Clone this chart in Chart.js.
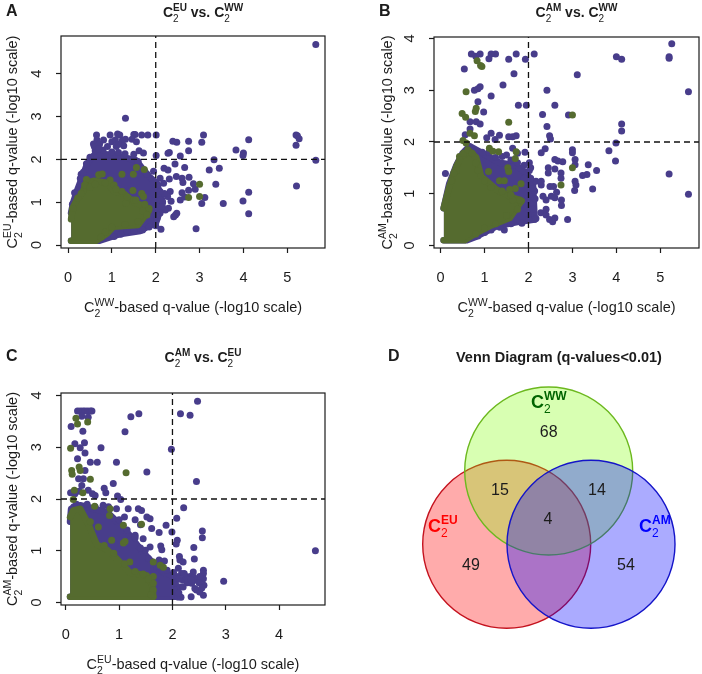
<!DOCTYPE html>
<html>
<head>
<meta charset="utf-8">
<script src="https://cdn.jsdelivr.net/npm/chart.js@4"></script>
<style>
  html, body { margin: 0; padding: 0; background: #fff; }
  #page { position: relative; width: 702px; height: 674px; overflow: hidden; }
  canvas { position: absolute; }
</style>
</head>
<body>
<div id="page">
  <canvas id="panelA" width="351" height="337" style="left:0;top:0"></canvas>
  <canvas id="panelB" width="351" height="337" style="left:351px;top:0"></canvas>
  <canvas id="panelC" width="351" height="337" style="left:0;top:337px"></canvas>
  <canvas id="panelD" width="351" height="337" style="left:351px;top:337px"></canvas>
</div>
<script>
var xTicks = [0, 1, 2, 3, 4, 5];
var qCutoff = 2;

// panel A: [x, y]
var aPurple = [[5.65,4.68],[1.31,2.96],[5.65,1.98],[5.21,1.38],[5.2,2.57],[5.23,2.55],[5.27,2.48],[5.2,2.33],[4.12,2.46],[3.83,2.22],[4,2.15],[3.99,2.09],[3.33,1.99],[3.45,1.79],[3.22,1.75],[3.09,2.57],[3.05,2.4],[2.75,2.42],[2.75,2.2],[2.39,2.42],[2.48,2.4],[2.31,2.16],[2.28,2.14],[2.56,2.08],[2.44,1.89],[2.66,1.81],[2.19,1.79],[2.28,1.75],[2.01,2.57],[2.01,2.09],[4.12,1.23],[3.99,1.03],[4.12,.73],[3.54,.97],[3.37,1.42],[3.12,1.11],[3.05,.97],[2.92,.38],[2.12,.37],[2.76,1.58],[2.47,1.6],[2.6,1.56],[2.31,1.54],[2.62,1.46],[2.86,1.43],[2.9,1.3],[2.75,1.28],[2.6,1.22],[2.33,1.25],[2.27,1.13],[2.56,1.05],[2.66,1.12],[2.48,.74],[2.41,.66],[2.29,.86],[2.22,.82],[2.03,.62],[2.1,1.05],[2.18,1.44],[2.1,1.56],[2.35,1.02],[2.45,.7],[2.2,1.2],[2.05,1.3],[.65,2.57],[.96,2.57],[1.13,2.59],[1.18,2.57],[1.5,2.58],[1.53,2.58],[1.68,2.57],[1.82,2.57],[.66,2.45],[.58,2.36],[1,2.41],[1.08,2.45],[1.31,2.47],[1.24,2.44],[1.27,2.32],[1.46,2.47],[1.56,2.41],[.81,2.45],[.72,2.36],[1,2.17],[1.15,2.16],[1.3,2.13],[1.5,2.12],[1.62,2.2],[1.72,2.15],[.62,2.2],[.8,2.22],[1.75,1.72],[1.6,1.95],[1.8,1.65],[1.95,1.72],[.3,1.65],[.15,1.22],[.6,2.3],[.7,2.25],[.9,2.3],[1.1,2.3],[1.15,2.35],[2.05,1.4],[2.1,1.25],[2.15,.9],[2.1,.75],[2.05,.7],[2,.45],[.1,.95],[.2,1.2],[.28,1.55],[.35,1.7],[.42,1.9],[.5,2.05],[1.05,.2],[1.2,.25],[1.35,.33],[1.5,.32],[1.7,.35],[1.85,.42]];
var aGreen = [[1.56,1.81],[1.74,1.76],[1.23,1.65],[1.49,1.65],[3,1.42],[2.75,1.11],[3,1.13],[1.48,1.27],[1.23,1.25],[.42,1.53],[.7,1.64],[.96,1.52],[1.68,1.2],[1.72,1.13],[1.5,1.05],[.78,1.66],[.55,1.45],[1.05,1.4],[1.32,.98],[1.85,.85],[1.7,.8],[.12,.85],[.22,1.1],[.3,1.2],[.38,1.4],[.5,1.35],[.62,1.42],[.85,1.45],[1.1,1.3],[1.35,1.12],[1.55,1.05],[1.75,.95],[1.8,.7],[1.6,.55],[1.3,.48],[1,.42],[.85,.3],[.75,.18]];
var aPurpleTop = [[.07,.75],[.12,1],[.2,1.25],[.33,1.6],[.42,1.85],[.5,2],[.62,2.12],[.85,2.12],[1.05,2.1],[1.25,2.05],[1.55,1.98],[1.7,1.78],[1.85,1.6],[2.02,1.45],[2.16,1]];
var aPurpleLow = [[.07,.1],[.72,.1],[.95,.18],[1.2,.26],[1.65,.33],[1.85,.45],[2,.5],[2.16,1]];
var aGreenTop = [[.07,.6],[.1,.85],[.2,1.05],[.32,1.2],[.42,1.45],[.6,1.5],[.9,1.45],[1.05,1.25],[1.27,1.2],[1.5,1],[1.7,.92],[1.84,.8]];
var aGreenLow = [[.07,.1],[.64,.1],[.89,.27],[1.04,.43],[1.6,.47],[1.84,.8]];

// panel B
var bPurple = [[5.26,3.9],[5.2,3.65],[5.2,3.62],[5.64,2.97],[5.64,.99],[5.2,1.38],[4,3.65],[4.12,3.6],[3.11,3.3],[4.12,2.35],[4.12,2.21],[3.99,1.98],[3.83,1.83],[3.98,1.63],[2.13,3.7],[1.93,3.6],[1.72,3.7],[1.55,3.6],[1.67,3.32],[1.25,3.7],[1.15,3.7],[1.1,3.61],[.9,3.7],[.7,3.7],[.8,3.66],[.54,3.41],[1.42,3.1],[2.42,3],[1.15,2.89],[.9,3.07],[.85,3.03],[.77,3],[.85,2.78],[1.77,2.71],[1.95,2.71],[2.6,2.71],[2.32,2.53],[2.91,2.52],[.98,2.58],[2.42,2.3],[2.48,2.12],[2.5,2.06],[.67,2.39],[.81,2.39],[.9,2.35],[.67,2.25],[.56,2.14],[1.15,2.17],[1.05,2.08],[1.24,2.05],[1.34,2.13],[1.55,2.1],[1.72,2.12],[1.64,2.1],[.11,1.39],[3.46,1.09],[3.55,1.45],[3.36,1.56],[3.33,1.37],[3.23,1.35],[3.05,1.06],[3.08,1.17],[3.06,1.24],[3.06,1.66],[3,1.85],[3,1.79],[3.06,1.56],[2.89,.5],[2.78,1.62],[2.67,1.63],[2.6,1.66],[2.6,1.48],[2.74,1.4],[2.74,1.3],[2.29,1.79],[2.38,1.87],[2.45,1.5],[2.45,1.4],[2.49,1.14],[2.57,1.14],[2.64,1.03],[2.52,.95],[2.6,.92],[2.75,.88],[2.75,.77],[2.4,.88],[2.33,.95],[2.29,1.17],[2.17,1.24],[2.29,1.24],[2.28,.63],[2.4,.59],[2.48,.5],[2.55,.46],[2.6,.53],[2.17,.52],[2.4,.7],[2.14,1.05],[1.45,.3],[1.64,1.88],[1.75,1.78],[1.92,1.8],[2.02,1.6],[2.02,1.45],[1.9,1.3],[.95,1.8],[1.4,1.72],[2.05,1.5],[2.05,1.3],[2.1,1.1],[2.15,.9],[2.1,.7],[2,.5],[1.9,1.55],[1.75,1.6],[1.6,1.65],[1.5,1.75],[1.25,1.7],[1.1,1.8],[1.85,.43],[1.6,.42],[1.35,.35],[1.15,.3],[1,.25],[.85,.18]];
var bGreen = [[.83,3.57],[.91,3.48],[.94,3.46],[.58,2.97],[.81,2.65],[.79,2.59],[.49,2.55],[.57,2.48],[1.55,2.38],[3,2.52],[.67,2.17],[.77,2.12],[.51,2.03],[.58,1.98],[1.11,1.88],[1.19,1.82],[1.32,1.81],[1.72,1.81],[1.7,1.68],[3,1.5],[2.74,1.17],[1.53,1.5],[1.55,1.43],[1.09,1.43],[.36,1.45],[.43,1.72],[1.34,1.25],[1.45,1.25],[1.83,1.19],[1.7,1.1],[1.57,1.08],[1.8,.88],[1.64,.88],[.25,1.25],[.3,1.4],[.52,1.78],[.62,1.85],[.72,1.78],[.8,1.6],[.85,1.45],[1,1.25],[1.15,1.12],[1.4,1.05],[1.6,.98],[1.75,.7],[1.5,.58],[1.25,.42],[1,.33],[.8,.22]];
var bPurpleTop = [[.07,.72],[.2,1.2],[.36,1.55],[.5,1.78],[.66,1.92],[.96,1.78],[1.34,1.6],[1.72,1.55],[1.95,1.4],[2.1,1.2],[2.14,.5]];
var bPurpleLow = [[.07,.1],[.6,.1],[.81,.17],[1.27,.37],[1.8,.46],[2.14,.5]];
var bGreenTop = [[.07,.72],[.2,1.14],[.36,1.53],[.47,1.72],[.66,1.82],[.81,1.7],[.92,1.34],[1.27,1.08],[1.57,.95],[1.84,.86]];
var bGreenLow = [[.07,.1],[.55,.1],[.81,.24],[1.11,.37],[1.57,.53],[1.84,.86]];

// panel C
var cPurple = [[4.68,1],[2.96,.41],[2.47,3.89],[2.15,3.65],[2.33,3.62],[1.98,2.96],[2.45,2.34],[2.21,1.83],[1.52,2.52],[1.37,3.65],[1.22,3.59],[1.11,3.3],[.66,2.99],[.59,2.71],[.46,2.71],[.95,2.71],[.89,2.3],[.35,3.09],[.17,3.07],[.27,2.99],[.36,2.89],[.22,2.78],[.32,3.31],[.1,3.4],[.22,3.7],[.27,3.7],[.32,3.7],[.36,3.7],[.41,3.7],[.46,3.7],[.49,3.7],[.3,3.6],[.42,3.58],[.72,2.21],[.75,2.12],[.97,2.06],[1.03,1.99],[.36,2.55],[.24,2.39],[.33,2.39],[.3,2.26],[.17,2.1],[.42,2.17],[.55,2.07],[.09,2.12],[.5,2.1],[.25,2.15],[2.56,1.38],[2.56,1.25],[1.99,1.36],[2.08,1.63],[1.88,1.49],[1.75,1.35],[2.09,1.2],[2.07,1.13],[2.4,1.06],[2.41,.84],[2.13,.89],[2.14,.82],[2.2,.78],[1.78,1.09],[1.8,1.02],[1.58,1.07],[1.49,1.01],[1.45,1.23],[1.61,1.43],[1.58,1.62],[1.52,1.65],[1.36,1.81],[1.42,1.78],[1.17,1.81],[.95,1.81],[1.4,1.5],[1.3,1.6],[1.1,1.65],[2.35,.11],[2.16,.1],[2.58,.14],[2.59,.33],[2.58,.62],[2.58,.56],[2.58,.46],[2.45,.24],[2.51,.2],[2.42,.27],[2.39,.59],[2.33,.5],[2.45,.43],[2.51,.5],[2.36,.37],[2.11,.66],[2.17,.56],[2.08,.5],[2.2,.43],[2.05,.37],[2.08,.24],[1.75,.82],[1.85,.8],[1.3,1.3],[2.12,.45],[2.15,.3],[2.12,.18],[2.25,.5],[2.28,.38],[2.2,.3],[2.28,.46],[2.4,.48],[2.5,.38],[2.55,.28],[2.35,.44],[2.22,.56],[2.02,.58],[.8,1.85],[.7,1.88],[.55,1.85],[.4,1.9],[.15,1.85],[.2,1.9],[1,1.6],[1.15,1.4],[1.3,1.25],[1.4,1.05],[1.55,.85],[1.7,.7],[1.9,.62]];
var cGreen = [[.19,3.56],[.22,3.45],[.41,3.49],[.09,2.98],[.25,2.62],[.27,2.55],[.11,2.55],[.12,2.48],[1.13,2.51],[.46,2.38],[.32,2.12],[.16,2.17],[.14,1.99],[.54,1.86],[.83,1.81],[.82,1.68],[1.08,1.49],[1.42,1.51],[.61,1.46],[.46,1.56],[.86,1.2],[1.08,1.15],[1.11,1.18],[1.2,.78],[1.64,.78],[1.77,.72],[1.83,.68],[1.64,.5],[1.64,.37],[1.64,.24],[.72,1.1],[.9,.95],[1.1,.75],[1.3,.6],[1.45,.55],[1.55,.45],[1.6,.15]];
var cPurpleTop = [[.08,1.56],[.1,1.81],[.27,1.88],[.77,1.75],[.92,1.6],[1.2,1.3],[1.42,1],[1.58,.82],[1.83,.58],[1.98,.52],[2.08,.3],[2.1,.1]];
var cPurpleLow = [[.08,.11],[2.1,.11]];
var cGreenTop = [[.08,1.65],[.14,1.78],[.27,1.81],[.42,1.52],[.58,1.12],[.77,1.02],[.95,.85],[1.2,.58],[1.52,.52],[1.62,.34],[1.64,.11]];
var cGreenLow = [[.08,.11],[1.64,.11]];

// panel D
var vennX = [548.7, 506.7, 591];
var vennY = [471, 544.3, 544.3];
var vennSize = [84, 84, 84];
var vennCounts = ["68", "15", "14", "4", "49", "54"];
var vennCountX = [548.7, 500, 597, 548, 471, 626];
var vennCountY = [433, 491, 491, 520, 566, 566];

var PURPLE = "#483d8b";
var OLIVE = "#556b2f";
var INK = "#1c1c1c";
var SANS = '"Liberation Sans", Arial, sans-serif';

function pts(list) {
  return list.map(function (p) { return { x: p[0], y: p[1] }; });
}

// C with a stacked subscript 2 and superscript, then the trailing text
function richWidth(ctx, sup, rest, s) {
  ctx.font = s.weight + " " + s.size + "px " + SANS;
  var w = ctx.measureText("C").width;
  ctx.font = s.weight + " " + s.small + "px " + SANS;
  w += ctx.measureText(sup).width;
  if (rest) {
    ctx.font = s.weight + " " + s.size + "px " + SANS;
    w += ctx.measureText(rest).width;
  }
  return w;
}

function drawRich(ctx, x, y, sup, rest, s) {
  ctx.textAlign = "left";
  ctx.textBaseline = "alphabetic";
  ctx.fillStyle = s.color || INK;
  ctx.font = s.weight + " " + s.size + "px " + SANS;
  ctx.fillText("C", x, y);
  var cx = x + ctx.measureText("C").width;
  ctx.font = "normal " + s.small + "px " + SANS;
  ctx.fillText("2", cx, y + s.small * 0.45);
  ctx.font = s.weight + " " + s.small + "px " + SANS;
  ctx.fillText(sup, cx, y - s.size * 0.42);
  cx += ctx.measureText(sup).width;
  if (rest) {
    ctx.font = s.weight + " " + s.size + "px " + SANS;
    ctx.fillText(rest, cx, y);
  }
}

var LABEL = { weight: "normal", size: 14.5, small: 10.5 };
var TITLE = { weight: "bold", size: 14, small: 10 };
var REST = "-based q-value (-log10 scale)";

var panelText = {
  id: "panelText",
  afterDraw: function (chart, args, o) {
    var ctx = chart.ctx, a = chart.chartArea;
    ctx.save();
    ctx.strokeStyle = INK;
    ctx.lineWidth = 1.2;
    ctx.strokeRect(a.left, a.top, a.right - a.left, a.bottom - a.top);

    ctx.font = "bold 16px " + SANS;
    ctx.fillStyle = INK;
    ctx.textAlign = "left";
    ctx.textBaseline = "alphabetic";
    ctx.fillText(o.letter, o.letterX, o.letterY);

    var tw = richWidth(ctx, o.titleA, "", TITLE);
    ctx.font = "bold 14px " + SANS;
    var vs = ctx.measureText(" vs. ").width;
    var total = tw + vs + richWidth(ctx, o.titleB, "", TITLE);
    var tx = (a.left + a.right) / 2 + 10 - total / 2;
    drawRich(ctx, tx, o.titleY, o.titleA, "", TITLE);
    ctx.font = "bold 14px " + SANS;
    ctx.fillStyle = INK;
    ctx.fillText(" vs. ", tx + tw, o.titleY);
    drawRich(ctx, tx + tw + vs, o.titleY, o.titleB, "", TITLE);

    var xw = richWidth(ctx, o.xSup, REST, LABEL);
    drawRich(ctx, (a.left + a.right) / 2 - xw / 2, a.bottom + 64, o.xSup, REST, LABEL);

    var yw = richWidth(ctx, o.ySup, REST, LABEL);
    ctx.translate(o.yLabelX, (a.top + a.bottom) / 2 + yw / 2);
    ctx.rotate(-Math.PI / 2);
    drawRich(ctx, 0, 0, o.ySup, REST, LABEL);
    ctx.restore();
  }
};

function scatterPanel(id, d) {
  var W = 351, H = 337, yW = 30, xH = 40;
  var cutoffLine = { showLine: true, pointRadius: 0, borderColor: "#111", borderWidth: 1.3, borderDash: [6, 4] };
  var mass = function (data, color, fill) {
    return { data: pts(data), showLine: true, pointRadius: 0, borderColor: color, backgroundColor: color,
      borderWidth: 6.6, borderJoinStyle: "round", borderCapStyle: "round", fill: fill, clip: false };
  };
  var dots = function (data, color) {
    return { data: pts(data), pointRadius: 3.5, pointBorderWidth: 0, pointBackgroundColor: color };
  };
  return new Chart(document.getElementById(id), {
    type: "scatter",
    data: {
      datasets: [
        Object.assign({ data: [{ x: d.xMin, y: qCutoff }, { x: d.xMax, y: qCutoff }] }, cutoffLine),
        Object.assign({ data: [{ x: qCutoff, y: d.yMin }, { x: qCutoff, y: d.yMax }] }, cutoffLine),
        dots(d.green, OLIVE),
        mass(d.greenTop, OLIVE, "+1"),
        mass(d.greenLow, OLIVE, false),
        dots(d.purple, PURPLE),
        mass(d.purpleTop, PURPLE, "+1"),
        mass(d.purpleLow, PURPLE, false)
      ]
    },
    options: {
      responsive: false,
      animation: false,
      events: [],
      layout: { autoPadding: false, padding: { left: d.box[0] - yW, right: W - d.box[1], top: d.box[2], bottom: H - d.box[3] - xH } },
      plugins: {
        legend: { display: false },
        tooltip: { enabled: false },
        panelText: d.text
      },
      scales: {
        x: {
          type: "linear", min: d.xMin, max: d.xMax, afterFit: function (s) { s.height = xH; },
          afterBuildTicks: function (s) { s.ticks = xTicks.filter(function (v) { return v <= d.xMax; }).map(function (v) { return { value: v }; }); },
          border: { display: false },
          grid: { drawOnChartArea: false, tickLength: 5, tickColor: INK, tickWidth: 1.2 },
          ticks: { color: INK, padding: 16, maxRotation: 0, font: { family: SANS, size: 14.5 } }
        },
        y: {
          type: "linear", min: d.yMin, max: d.yMax, afterFit: function (s) { s.width = yW; },
          afterBuildTicks: function (s) { s.ticks = xTicks.filter(function (v) { return v <= d.yMax; }).map(function (v) { return { value: v }; }); },
          border: { display: false },
          grid: { drawOnChartArea: false, tickLength: 5, tickColor: INK, tickWidth: 1.2 },
          ticks: { color: INK, padding: 15, crossAlign: "center", minRotation: 90, maxRotation: 90, font: { family: SANS, size: 14.5 } }
        }
      }
    },
    plugins: [panelText]
  });
}

scatterPanel("panelA", {
  box: [61, 325, 36, 248], xMin: -.16, xMax: 5.86, yMin: -.07, yMax: 4.88,
  purple: aPurple, green: aGreen, purpleTop: aPurpleTop, purpleLow: aPurpleLow, greenTop: aGreenTop, greenLow: aGreenLow,
  text: { letter: "A", letterX: 6, letterY: 16, titleA: "EU", titleB: "WW", titleY: 17, xSup: "WW", ySup: "EU", yLabelX: 17 }
});
scatterPanel("panelB", {
  box: [83, 348, 37, 248], xMin: -.15, xMax: 5.88, yMin: -.05, yMax: 4.03,
  purple: bPurple, green: bGreen, purpleTop: bPurpleTop, purpleLow: bPurpleLow, greenTop: bGreenTop, greenLow: bGreenLow,
  text: { letter: "B", letterX: 28, letterY: 16, titleA: "AM", titleB: "WW", titleY: 17, xSup: "WW", ySup: "AM", yLabelX: 41 }
});
scatterPanel("panelC", {
  box: [61, 325, 56, 268], xMin: -.09, xMax: 4.86, yMin: -.05, yMax: 4.05,
  purple: cPurple, green: cGreen, purpleTop: cPurpleTop, purpleLow: cPurpleLow, greenTop: cGreenTop, greenLow: cGreenLow,
  text: { letter: "C", letterX: 6, letterY: 24, titleA: "AM", titleB: "EU", titleY: 25, xSup: "EU", ySup: "AM", yLabelX: 17 }
});

// venn labels sit on the same scales as the circles, x and y are page pixels
var vennText = {
  id: "vennText",
  afterDraw: function (chart) {
    var ctx = chart.ctx, sx = chart.scales.x, sy = chart.scales.y;
    ctx.save();
    ctx.fillStyle = INK;
    ctx.textAlign = "left";
    ctx.textBaseline = "alphabetic";
    ctx.font = "bold 16px " + SANS;
    ctx.fillText("D", 37, 24);
    ctx.font = "bold 14.5px " + SANS;
    ctx.fillText("Venn Diagram (q-values<0.01)", 105, 25);
    ctx.font = "16px " + SANS;
    ctx.textAlign = "center";
    ctx.textBaseline = "middle";
    vennCounts.forEach(function (c, i) {
      ctx.fillText(c, sx.getPixelForValue(vennCountX[i]), sy.getPixelForValue(vennCountY[i]));
    });
    var big = { weight: "bold", size: 18, small: 12 };
    drawRich(ctx, sx.getPixelForValue(531), sy.getPixelForValue(408), "WW", "", Object.assign({ color: "#006400" }, big));
    drawRich(ctx, sx.getPixelForValue(428), sy.getPixelForValue(532), "EU", "", Object.assign({ color: "#ff0000" }, big));
    drawRich(ctx, sx.getPixelForValue(639), sy.getPixelForValue(532), "AM", "", Object.assign({ color: "#0000ff" }, big));
    ctx.restore();
  }
};

function vennCircle(i, fill, line) {
  return { data: [{ x: vennX[i], y: vennY[i], r: vennSize[i] }], backgroundColor: fill, borderColor: line, borderWidth: 1.4, clip: false };
}

new Chart(document.getElementById("panelD"), {
  type: "bubble",
  data: {
    datasets: [
      vennCircle(2, "rgba(0,0,255,0.33)", "#1414c8"),
      vennCircle(0, "rgba(127,255,0,0.3)", "#6cb81e"),
      vennCircle(1, "rgba(255,0,0,0.33)", "#c4121e")
    ]
  },
  options: {
    responsive: false,
    animation: false,
    events: [],
    layout: { autoPadding: false, padding: 0 },
    plugins: { legend: { display: false }, tooltip: { enabled: false } },
    scales: {
      x: { type: "linear", display: false, min: 351, max: 702 },
      y: { type: "linear", display: false, min: 337, max: 674, reverse: true }
    }
  },
  plugins: [vennText]
});
</script>
</body>
</html>
